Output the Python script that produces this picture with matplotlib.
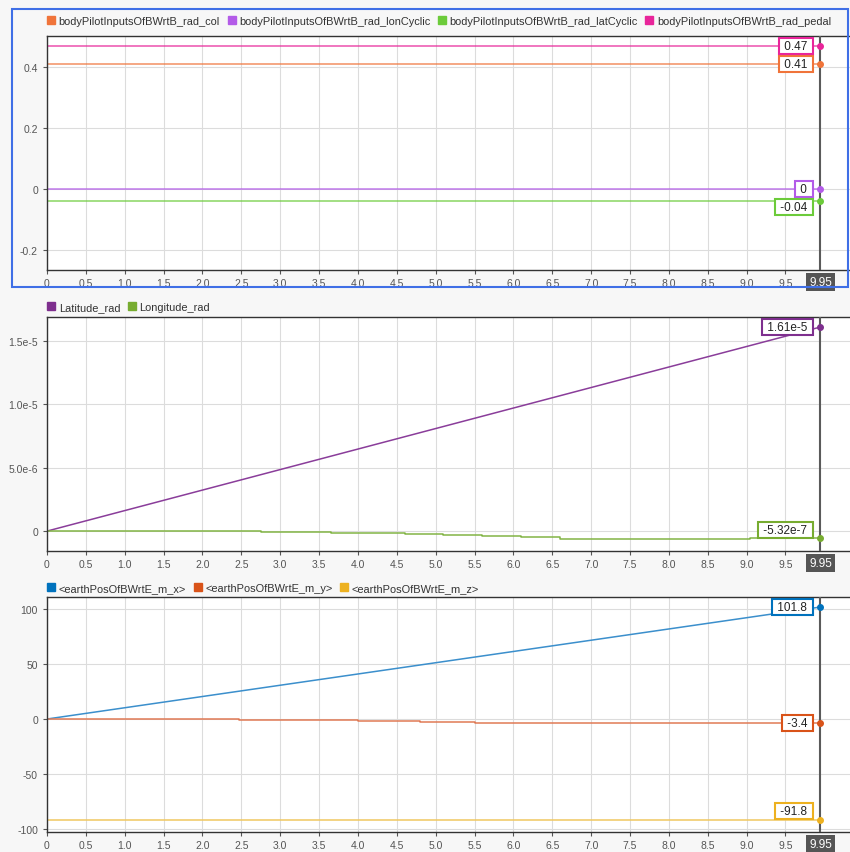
import numpy as np
import matplotlib.pyplot as plt
from matplotlib.lines import Line2D
from matplotlib.patches import Rectangle
from matplotlib.ticker import FuncFormatter

plt.rcParams['font.family'] = ['Liberation Sans', 'DejaVu Sans']

# cursor time
t_cur = 9.95

# panel 1: pilot inputs (constant)
pilot_names = ['bodyPilotInputsOfBWrtB_rad_col', 'bodyPilotInputsOfBWrtB_rad_lonCyclic',
               'bodyPilotInputsOfBWrtB_rad_latCyclic', 'bodyPilotInputsOfBWrtB_rad_pedal']
pilot_vals = [0.41, 0.0, -0.04, 0.47]
pilot_labels = ['0.41', '0', '-0.04', '0.47']
pilot_colors = ['#f0743a', '#b35be8', '#6ccb3a', '#e8259a']

# panel 2: latitude / longitude
lat_t = [0, 9.95]
lat_v = [0, 1.61e-5]
lon_t = [0, 2.75, 3.65, 4.15, 4.6, 5.1, 5.6, 6.1, 6.6, 7.0, 8.3, 9.05, 9.95]
lon_v = [0, -0.5e-7, -1.2e-7, -1.8e-7, -2.6e-7, -3.4e-7, -4.2e-7, -5.0e-7,
         -6.0e-7, -6.5e-7, -6.0e-7, -5.32e-7, -5.32e-7]

# panel 3: earth position
px_t = [0, 9.95]
px_v = [0, 101.8]
py_t = [0, 2.47, 4.0, 4.8, 5.5, 6.3, 9.0, 9.95]
py_v = [-0.3, -0.8, -1.5, -2.5, -3.3, -4.0, -3.4, -3.4]
pz_t = [0, 9.95]
pz_v = [-91.8, -91.8]

bg = '#f7f7f7'
grid_c = '#dcdcdc'
cursor_c = '#5a5a5a'

fig = plt.figure(figsize=(8.5, 8.53), dpi=100, facecolor=bg)

W, H = 850.0, 853.0
def add_panel(top, bottom):
    return fig.add_axes([47 / W, 1 - bottom / H, 1 - 47 / W, (bottom - top) / H])

ax1 = add_panel(37, 271)
ax2 = add_panel(318, 552)
ax3 = add_panel(598, 833)

def xfmt(v, pos):
    return '0' if abs(v) < 1e-9 else '%.1f' % v

def style(ax, ylim, yticks, yfmt):
    ax.set_facecolor('white')
    ax.set_xlim(0, 10.33)
    ax.set_ylim(*ylim)
    ax.set_xticks(np.arange(0, 10, 0.5))
    ax.set_yticks(yticks)
    ax.xaxis.set_major_formatter(FuncFormatter(xfmt))
    ax.yaxis.set_major_formatter(FuncFormatter(yfmt))
    ax.grid(True, color=grid_c, lw=0.8)
    ax.set_axisbelow(True)
    for s in ['top', 'left', 'bottom']:
        ax.spines[s].set_color('#333333')
        ax.spines[s].set_linewidth(1)
    ax.spines['right'].set_visible(False)
    ax.tick_params(axis='both', labelsize=7.5, colors='#555555', length=3, width=0.8,
                   labelcolor='#555555')
    ax.tick_params(axis='x', length=3, pad=3)
    ax.axvline(t_cur, color=cursor_c, lw=1.5, zorder=5)
    ax.text(t_cur, -0.025, '9.95', transform=ax.get_xaxis_transform(), ha='center', va='top',
            fontsize=8.5, color='white', zorder=6,
            bbox=dict(boxstyle='square,pad=0.25', fc='#555555', ec='none'))

def legend(ax, names, colors, ypos):
    handles = [Line2D([], [], ls='none', marker='s', ms=5.5, color=c) for c in colors]
    ax.legend(handles, names, loc='center left', bbox_to_anchor=(0.001, ypos), ncol=len(names),
              frameon=False, fontsize=7.9, handlelength=0.6, handletextpad=0.4,
              columnspacing=0.75, borderaxespad=0, borderpad=0, labelcolor='#333333')

def value_tag(ax, y, text, color, dy=0):
    ax.plot([t_cur], [y], 'o', color=color, ms=4, zorder=7, clip_on=False)
    ax.annotate(' %s ' % text, xy=(t_cur, y), xytext=(-10, dy), textcoords='offset pixels',
                ha='right', va='center', fontsize=8.5, color='#222222', zorder=8,
                bbox=dict(boxstyle='square,pad=0.18', fc='white', ec=color, lw=1.5))

# panel 1
style(ax1, (-0.266, 0.502), [-0.2, 0, 0.2, 0.4],
      lambda v, p: '0' if abs(v) < 1e-9 else '%.1f' % v)
for v, c in zip(pilot_vals, pilot_colors):
    ax1.plot([0, t_cur], [v, v], color=c, lw=1.1, alpha=0.8)
legend(ax1, pilot_names, pilot_colors, 1.064)
tag_dy = [0, 0, -6, 0]
for v, lab, c, d in zip(pilot_vals, pilot_labels, pilot_colors, tag_dy):
    value_tag(ax1, v, lab, c, d)

# panel 2
def sci(v, p):
    if abs(v) < 1e-12:
        return '0'
    s = '%.1e' % v
    m, e = s.split('e')
    return '%se%d' % (m, int(e))
style(ax2, (-1.57e-6, 1.689e-5), [0, 5e-6, 1e-5, 1.5e-5], sci)
ax2.plot(lat_t, lat_v, color='#8a3d9a', lw=1.1)
ax2.plot(lon_t, lon_v, color='#82b445', lw=1.1, drawstyle='steps-post')
legend(ax2, ['Latitude_rad', 'Longitude_rad'], ['#7e2f8e', '#77ac30'], 1.042)
value_tag(ax2, lat_v[-1], '1.61e-5', '#7e2f8e')
value_tag(ax2, lon_v[-1], '-5.32e-7', '#77ac30', 8)

# panel 3
style(ax3, (-102.7, 110.9), [-100, -50, 0, 50, 100], lambda v, p: '%d' % round(v))
ax3.plot(px_t, px_v, color='#3b8fcc', lw=1.1)
ax3.plot(py_t, py_v, color='#e07a55', lw=1.1, drawstyle='steps-post')
ax3.plot(pz_t, pz_v, color='#f0c860', lw=1.1)
legend(ax3, ['<earthPosOfBWrtE_m_x>', '<earthPosOfBWrtE_m_y>', '<earthPosOfBWrtE_m_z>'],
       ['#0072bd', '#d95319', '#edb120'], 1.039)
value_tag(ax3, px_v[-1], '101.8', '#0072bd')
value_tag(ax3, py_v[-1], '-3.4', '#d95319')
value_tag(ax3, pz_v[-1], '-91.8', '#edb120', 9)

# selected panel frame
fig.add_artist(Rectangle((12 / W, 1 - 288 / H), 836 / W, 278 / H, transform=fig.transFigure,
                         fill=False, ec='#3f6fe6', lw=1.5))

fig.savefig('out.png', dpi=100, facecolor=bg)
